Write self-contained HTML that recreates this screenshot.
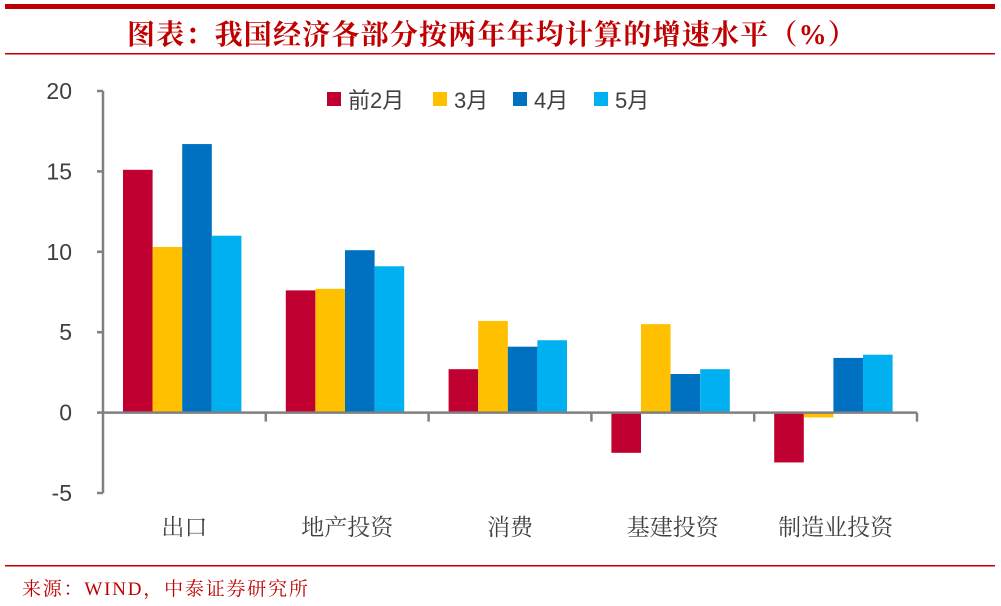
<!DOCTYPE html>
<html><head><meta charset="utf-8"><style>
body{margin:0;background:#fff;}
svg{display:block;}
</style></head><body>
<svg width="1001" height="606" xmlns="http://www.w3.org/2000/svg">
<rect x="5" y="4" width="990" height="5" fill="#c00000"/>
<text x="492" y="44" text-anchor="middle" font-family="'Liberation Serif','Noto Serif CJK SC',serif" font-size="28" font-weight="bold" letter-spacing="1.2" fill="#c00000">图表：我国经济各部分按两年年均计算的增速水平（%）</text>
<rect x="5" y="53" width="990" height="1.5" fill="#c00000"/>
<g id="plot"></g>
<rect x="5" y="565" width="990" height="1.5" fill="#c00000"/>
<text x="22" y="595" font-family="'Liberation Serif','Noto Serif CJK SC',serif" font-size="19" letter-spacing="1.8" fill="#c00000">来源：WIND，中泰证券研究所</text>
</svg>
<script>
const categories=['出口','地产投资','消费','基建投资','制造业投资'];
const seriesNames=['前2月','3月','4月','5月'];
const s1=[15.1,7.6,2.7,-2.5,-3.1];
const s2=[10.3,7.7,5.7,5.5,-0.3];
const s3=[16.7,10.1,4.1,2.4,3.4];
const s4=[11.0,9.1,4.5,2.7,3.6];
const yTicks=[20,15,10,5,0,-5];
const colors=['#c00030','#ffc000','#0070c0','#00b0f0'];
const NS='http://www.w3.org/2000/svg';
const g=document.getElementById('plot');
const x0=103,x1=917,yTop=91,yBot=493,vMax=20,vMin=-5;
const y=v=>yTop+(vMax-v)*(yBot-yTop)/(vMax-vMin);
const cw=(x1-x0)/categories.length;
const bw=29.6;
function el(t,a){const e=document.createElementNS(NS,t);for(const k in a)e.setAttribute(k,a[k]);g.appendChild(e);return e;}
const series=[s1,s2,s3,s4];
series.forEach((s,si)=>{s.forEach((v,ci)=>{
 const bx=x0+ci*cw+20+si*bw;
 const r=el('rect',{x:bx,y:Math.min(y(v),y(0)),width:bw,height:Math.abs(y(v)-y(0)),fill:colors[si]});
 
 
});});
const ax=el('line',{x1:x0,y1:yTop,x2:x0,y2:yBot,stroke:'#808080','stroke-width':2.5});


yTicks.forEach(t=>{
 const tk=el('line',{x1:x0-6,y1:y(t),x2:x0,y2:y(t),stroke:'#808080','stroke-width':2.5});
 
 
 const tx=el('text',{x:72,y:y(t)+8,'text-anchor':'end','font-family':"'Liberation Sans',sans-serif",'font-size':23,fill:'#404040'});
 tx.textContent=t;
 
 
});
const xa=el('line',{x1:x0,y1:y(0),x2:x1,y2:y(0),stroke:'#808080','stroke-width':2.5});


for(let i=1;i<=categories.length;i++){
 const tk=el('line',{x1:x0+i*cw,y1:y(0),x2:x0+i*cw,y2:y(0)+9,stroke:'#808080','stroke-width':2.5});
 
 
}
categories.forEach((c,i)=>{
 const tx=el('text',{x:x0+(i+0.5)*cw,y:535,'text-anchor':'middle','font-family':"'Liberation Serif','Noto Serif CJK SC',serif",'font-size':23,fill:'#404040'});
 tx.textContent=c;
 
 
});
const lx=[327,433,513,594];
seriesNames.forEach((n,i)=>{
 const r=el('rect',{x:lx[i],y:92,width:14,height:14,fill:colors[i]});
 
 
 const tx=el('text',{x:lx[i]+21,y:108,'font-family':"'Liberation Sans','Noto Sans CJK SC',sans-serif",'font-size':22,fill:'#404040'});
 tx.textContent=n;
 
 
});
</script>
</body></html>
